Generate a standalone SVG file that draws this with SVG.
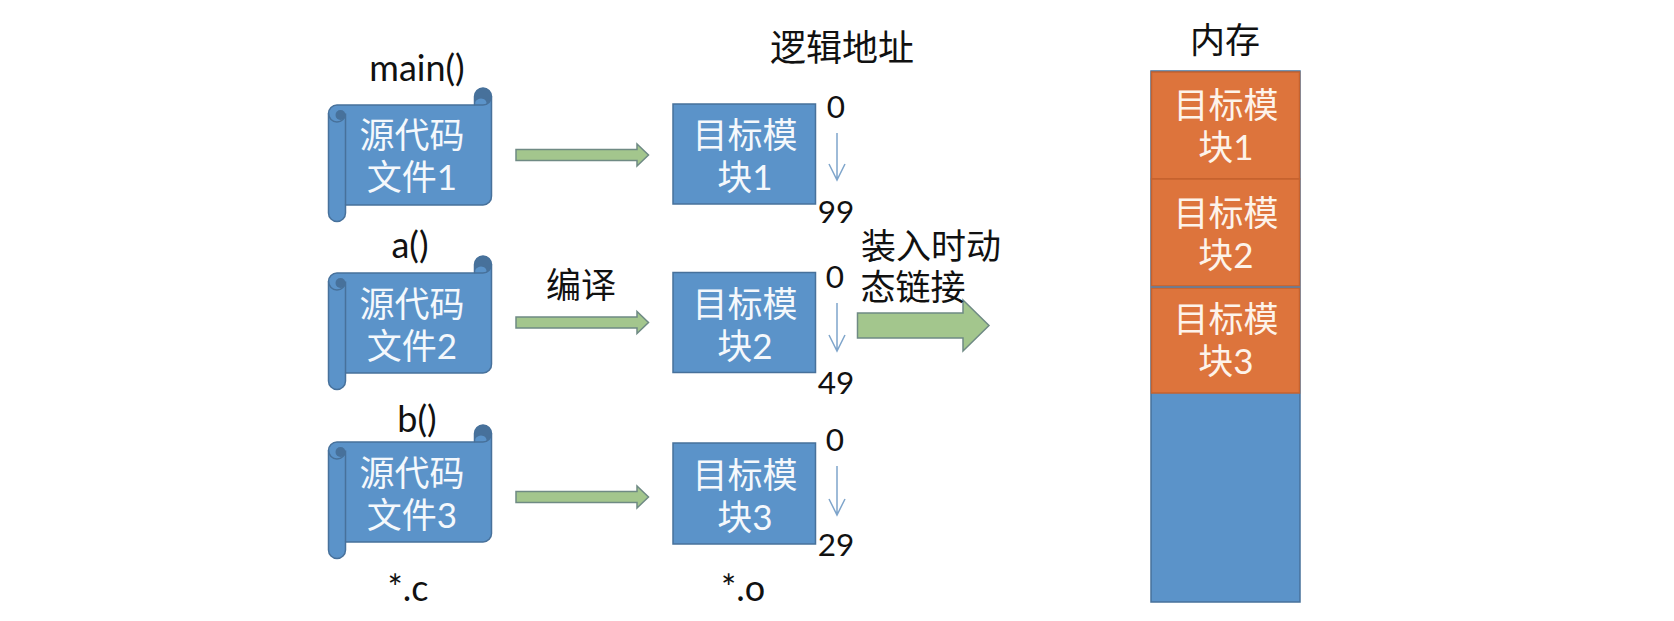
<svg xmlns="http://www.w3.org/2000/svg" width="1674" height="621" viewBox="0 0 1674 621">
  <style>
    text { font-family: "Lato", "Noto Sans CJK SC", sans-serif; text-anchor: middle; }
    .dark { fill: #111; font-size: 36px; }
    .num { fill: #111; font-size: 31.5px; }
    .inner { fill: #f4f8fc; font-size: 35px; }
    .warm { fill: #fdf3ea; font-size: 35px; }
    .box { fill: #5b93c9; stroke: #47719b; stroke-width: 1.5; }
    .mem { fill: #dd743c; stroke: #c5622e; stroke-width: 1.5; }
    .scroll { fill: #5b93c9; stroke: #47719b; stroke-width: 1.5; stroke-linejoin: round; }
    .curl { fill: #47719b; }
    .fold { fill: none; stroke: #47719b; stroke-width: 1.5; }
    .flow { fill: #a3c68d; stroke: #6f8a84; stroke-width: 1.5; }
    .tick { fill: none; stroke: #7fa5cb; stroke-width: 1.5; }
  </style>
  <defs>
    <!-- Scroll outline, origin at the left edge of the body top -->
    <g id="scroll-shape">
      <path class="scroll" d="M8.500 17 H146 V8.500 A8.500 8.500 0 0 1 163 8.500 V108 A8.500 8.500 0 0 1 154.500 117 H17 V125 A8.500 8.500 0 0 1 0 125 V25.500 A8.500 8.500 0 0 1 8.500 17 Z"/>
      <!-- rolled corner, top right -->
      <path class="curl" d="M146 15 V8.500 A8.500 8.500 0 0 1 163 8.500 A8.500 8.500 0 0 1 158 16 A5 5 0 0 0 155 11 A7 7 0 0 0 146 15 Z"/>
      <!-- rolled corner, top left -->
      <circle class="curl" cx="12" cy="27" r="5"/>
      <path class="fold" d="M0 25.500 A8.500 8.500 0 0 0 8.500 34 A8.500 8.500 0 0 0 17 25.500 V117 M146 17 H154.500 A8.500 8.500 0 0 0 163 8.500"/>
    </g>
    <path id="thin-flow" class="flow" d="M0 -5.500 H121 V-11 L132.500 0 L121 11 V5.500 H0 Z"/>
  </defs>

  <g id="connectors">
    <use href="#thin-flow" x="516" y="155"/>
    <use href="#thin-flow" x="516" y="322.500"/>
    <use href="#thin-flow" x="516" y="497"/>
    <path class="flow" d="M857.500 313 H963 V300 L989 325.500 L963 351 V338 H857.500 Z"/>
    <g id="address-arrows">
      <path class="tick" d="M837 133 V180 M829 164 L837 180 L845 164"/>
      <path class="tick" d="M837 303 V351 M829 335 L837 351 L845 335"/>
      <path class="tick" d="M837 466 V515 M829 499 L837 515 L845 499"/>
    </g>
  </g>

  <g id="source-1">
    <use href="#scroll-shape" x="328.500" y="88"/>
    <text class="inner" x="412" y="148">源代码</text>
    <text class="inner" x="412" y="190">文件1</text>
  </g>
  <g id="source-2">
    <use href="#scroll-shape" x="328.500" y="256"/>
    <text class="inner" x="412" y="317">源代码</text>
    <text class="inner" x="412" y="359">文件2</text>
  </g>
  <g id="source-3">
    <use href="#scroll-shape" x="328.500" y="425"/>
    <text class="inner" x="412" y="486">源代码</text>
    <text class="inner" x="412" y="528">文件3</text>
  </g>

  <g id="module-1">
    <rect class="box" x="673" y="104" width="142.500" height="100"/>
    <text class="inner" x="745" y="148">目标模</text>
    <text class="inner" x="745" y="190">块1</text>
  </g>
  <g id="module-2">
    <rect class="box" x="673" y="272.500" width="142.500" height="100"/>
    <text class="inner" x="745" y="317">目标模</text>
    <text class="inner" x="745" y="359">块2</text>
  </g>
  <g id="module-3">
    <rect class="box" x="673" y="443" width="142.500" height="101"/>
    <text class="inner" x="745" y="488">目标模</text>
    <text class="inner" x="745" y="530">块3</text>
  </g>

  <g id="memory">
    <rect class="box" x="1151" y="71" width="149" height="531"/>
    <rect class="mem" x="1151.500" y="72" width="148" height="107"/>
    <rect class="mem" x="1151.500" y="179" width="148" height="107"/>
    <rect class="mem" x="1151.500" y="288" width="148" height="105"/>
    <path d="M1151 287 H1300" stroke="#5f7f9f" stroke-width="1.500" fill="none"/>
    <text class="warm" x="1226" y="118">目标模</text>
    <text class="warm" x="1226" y="160">块1</text>
    <text class="warm" x="1226" y="226">目标模</text>
    <text class="warm" x="1226" y="268">块2</text>
    <text class="warm" x="1226" y="332">目标模</text>
    <text class="warm" x="1226" y="374">块3</text>
  </g>

  <g id="labels">
    <text class="dark" x="417" y="81">main()</text>
    <text class="dark" x="410" y="258">a()</text>
    <text class="dark" x="417" y="432">b()</text>
    <text class="dark" x="408" y="601">*.c</text>
    <text class="dark" x="743" y="601">*.o</text>
    <text class="dark" x="842" y="61">逻辑地址</text>
    <text class="dark" x="1225" y="53" style="font-size:35px">内存</text>
    <text class="dark" x="581" y="298" style="font-size:35px">编译</text>
    <text class="dark" x="931" y="259" style="font-size:35px">装入时动</text>
    <text class="dark" x="913" y="300" style="font-size:35px">态链接</text>
    <text class="num" x="836" y="118">0</text>
    <text class="num" x="836" y="223">99</text>
    <text class="num" x="835" y="288">0</text>
    <text class="num" x="836" y="394">49</text>
    <text class="num" x="835" y="451">0</text>
    <text class="num" x="836" y="556">29</text>
  </g>
</svg>
